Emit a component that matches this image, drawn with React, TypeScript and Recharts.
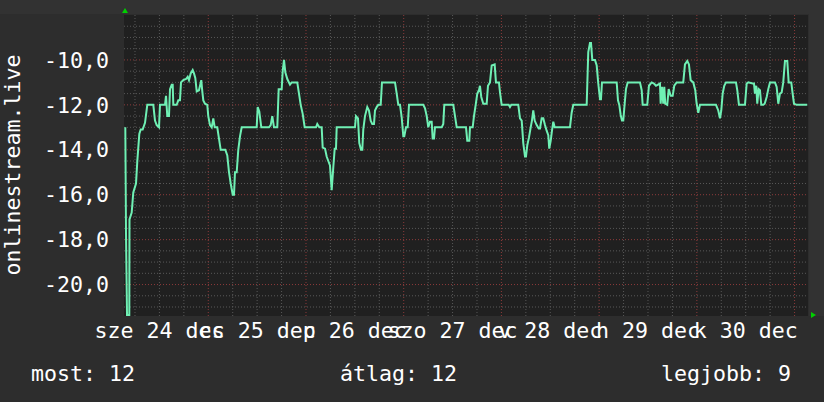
import { LineChart, Line, XAxis, YAxis, CartesianGrid, ReferenceLine } from 'recharts';

const FONT = "'DejaVu Sans Mono', monospace";

// time axis is in hours after dec 24 00:00, the window is one week
const windowStart = 3.3;
const windowEnd = 171.3;

// samples, hours after windowStart
const hoursSinceStart = [
  0.32, 0.49, 0.74, 1.3, 1.35, 1.89, 2.28, 2.95, 3.27, 3.76, 4.1, 4.59, 5.16, 5.72, 7.2, 7.61, 8.03, 8.6, 8.84,
  10.07, 10.32, 10.63, 11.05, 11.3, 11.72, 11.96, 12.11, 12.94, 13.34, 13.75, 14.0, 14.56, 15.23, 15.64, 15.96,
  16.38, 16.87, 17.19, 17.51, 17.86, 18.42, 18.67, 18.98, 19.23, 19.48, 19.89, 20.46, 20.7, 21.12, 21.54, 21.93,
  22.28, 22.91, 23.33, 23.75, 24.88, 25.37, 25.79, 26.21, 26.7, 27.02, 27.26, 27.68, 28.07, 28.49, 28.91, 32.59,
  32.84, 33.23, 33.72, 35.61, 36.03, 36.42, 36.84, 37.65, 37.99, 38.73, 38.98, 39.3, 39.62, 40.11, 40.77, 41.19,
  42.56, 42.98, 43.4, 43.89, 44.38, 47.16, 47.47, 47.97, 48.55, 48.8, 49.37, 49.78, 50.18, 50.59, 51.01, 51.4,
  51.75, 52.07, 52.24, 56.73, 56.98, 57.47, 57.79, 58.21, 58.53, 58.77, 59.19, 59.75, 60.17, 60.59, 60.98, 61.4,
  61.65, 62.06, 62.46, 63.05, 63.36, 66.56, 66.98, 67.37, 67.79, 68.2, 68.6, 68.84, 69.26, 69.68, 70.0, 73.51,
  73.93, 74.35, 74.74, 75.15, 75.57, 75.81, 76.14, 76.38, 78.03, 78.42, 78.67, 80.88, 81.3, 81.72, 84.0, 84.31,
  84.81, 84.98, 85.64, 85.96, 86.38, 86.77, 87.19, 87.43, 87.75, 88.24, 89.08, 89.4, 89.89, 90.31, 91.04, 91.36,
  92.1, 92.35, 92.76, 94.48, 94.8, 95.12, 96.84, 97.26, 97.68, 98.07, 98.49, 98.73, 99.05, 99.47, 99.89, 100.2,
  100.52, 100.87, 101.36, 101.85, 102.17, 102.59, 102.98, 103.4, 103.81, 104.21, 104.45, 104.8, 105.12, 105.44,
  105.78, 109.54, 109.95, 110.35, 113.64, 114.03, 114.45, 114.7, 115.02, 115.68, 116.1, 116.49, 116.91, 117.15,
  117.4, 121.01, 121.33, 121.65, 121.99, 122.31, 122.63, 122.97, 123.29, 123.71, 126.73, 127.15, 127.39, 128.52,
  128.94, 129.6, 130.17, 130.66, 131.64, 131.81, 132.13, 132.45, 132.7, 132.94, 133.43, 133.78, 134.27, 134.76,
  135.15, 135.74, 137.36, 137.78, 138.35, 138.76, 139.18, 139.82, 140.31, 140.65, 141.05, 141.47, 145.4, 145.96,
  146.38, 146.7, 147.04, 147.43, 147.85, 150.31, 150.63, 151.04, 152.52, 152.94, 153.33, 154.41, 154.73, 154.97,
  155.29, 155.54, 155.88, 156.2, 156.52, 157.01, 157.36, 157.85, 158.24, 158.66, 159.89, 160.3, 160.7, 161.11,
  161.53, 161.92, 162.34, 162.91, 163.25, 163.89, 164.23, 164.56, 165.22, 167.82,
];

const values = [
  -13.0, -17.7, -21.35, -21.35, -17.1, -16.8, -15.9, -15.5, -14.5, -13.3, -13.1, -13.1, -12.8, -12.0, -12.0, -12.7,
  -12.9, -13.0, -12.0, -12.0, -11.6, -12.5, -12.5, -11.3, -11.1, -11.1, -12.0, -12.0, -11.8, -11.8, -11.0, -10.9,
  -10.85, -10.75, -10.9, -10.6, -10.45, -10.6, -10.8, -11.4, -11.35, -11.15, -10.9, -11.4, -11.8, -11.95, -12.0,
  -12.5, -12.9, -13.0, -12.6, -13.0, -13.0, -13.5, -14.0, -14.0, -14.25, -15.0, -15.5, -16.0, -16.0, -15.0, -15.0,
  -14.0, -13.4, -13.0, -13.0, -12.1, -12.3, -13.0, -13.0, -12.9, -12.5, -13.0, -13.0, -11.3, -11.3, -10.5, -10.0,
  -10.55, -10.85, -11.1, -11.0, -11.0, -11.5, -12.0, -12.4, -13.0, -13.0, -12.85, -13.0, -13.0, -13.9, -13.95,
  -14.3, -14.5, -14.7, -15.8, -14.8, -13.95, -13.95, -13.0, -13.0, -12.5, -12.6, -13.7, -14.0, -14.0, -13.1, -12.5,
  -12.1, -12.25, -12.7, -12.85, -12.85, -12.25, -12.1, -12.0, -12.0, -11.0, -11.0, -11.5, -12.0, -12.0, -12.55,
  -13.4, -13.4, -13.0, -13.0, -12.0, -12.0, -12.15, -12.5, -13.0, -12.75, -12.75, -13.5, -13.5, -13.0, -13.0,
  -12.85, -12.0, -12.0, -12.5, -13.0, -13.0, -13.6, -13.6, -13.0, -13.0, -12.5, -12.0, -11.5, -11.35, -11.15,
  -11.65, -11.95, -11.95, -11.15, -11.0, -10.25, -10.2, -11.0, -11.0, -11.45, -12.0, -12.0, -12.1, -12.0, -12.0,
  -12.6, -12.7, -13.7, -14.3, -14.3, -13.8, -13.45, -13.0, -12.7, -12.25, -12.7, -12.9, -13.05, -13.05, -12.6,
  -12.6, -12.9, -13.15, -13.35, -13.95, -13.6, -13.15, -12.75, -13.0, -13.0, -12.35, -12.0, -12.0, -9.65, -9.25,
  -9.25, -10.0, -10.0, -10.25, -11.05, -11.75, -11.75, -11.0, -11.0, -11.8, -12.0, -12.45, -12.7, -12.7, -11.95,
  -11.3, -11.0, -11.0, -11.35, -12.0, -12.0, -11.15, -11.0, -11.05, -11.15, -11.05, -11.95, -11.2, -11.95, -11.2,
  -11.95, -12.0, -11.3, -11.6, -11.6, -11.15, -11.0, -11.0, -10.2, -10.05, -10.2, -10.9, -11.0, -11.35, -11.95,
  -12.35, -12.0, -12.0, -12.25, -12.6, -12.25, -11.5, -11.15, -11.0, -11.0, -11.35, -12.0, -12.0, -11.05, -11.0,
  -11.05, -11.05, -11.5, -11.15, -11.95, -11.3, -11.35, -12.0, -12.0, -11.95, -11.65, -11.3, -11.0, -11.0, -11.2,
  -11.95, -11.5, -11.45, -11.0, -10.05, -10.05, -11.0, -11.0, -11.5, -11.95, -12.0, -12.0,
];

const dayLabels = ['sze 24 dec', 'cs 25 dec', 'p 26 dec', 'szo 27 dec', 'v 28 dec', 'h 29 dec', 'k 30 dec'];
const dayLabelHours = [12, 36, 60, 84, 108, 132, 156];
const dayLines = [24, 48, 72, 96, 120, 144, 168];
const sixHourLines = [
  6, 12, 18, 30, 36, 42, 54, 60, 66, 78, 84, 90, 102, 108, 114, 126, 132, 138, 150, 156, 162,
];

const yTicks = [-20, -18, -16, -14, -12, -10];
const yMinor = [
  -21, -20.5, -19.5, -19, -18.5, -17.5, -17, -16.5, -15.5, -15, -14.5, -13.5, -13, -12.5, -11.5, -11, -10.5, -9.5,
  -9, -8.5,
];

const statNames = ['most', 'átlag', 'legjobb'];
const statValues = ['12', '12', '9'];

const data = hoursSinceStart.map((h, i) => ({ t: windowStart + h, v: values[i] }));

const tickStyle = { fill: '#ffffff', fontSize: 21.6, fontFamily: FONT };

function AxisTitle() {
  return (
    <text
      x={20}
      y={165}
      transform="rotate(-90 20 165)"
      textAnchor="middle"
      fill="#ffffff"
      fontSize={21.6}
      fontFamily={FONT}
    >
      onlinestream.live
    </text>
  );
}

export default function App() {
  const statX = [31, 340, 661];
  return (
    <div style={{ position: 'relative', width: 824, height: 402, background: '#2d2d2d', overflow: 'hidden' }}>
      <style>{'body{margin:0}'}</style>
      <div style={{ position: 'absolute', left: 0, top: 0, width: 824, height: 14, background: '#323232' }} />
      <div style={{ position: 'absolute', left: 809, top: 0, width: 15, height: 316, background: '#323232' }} />
      <div style={{ position: 'absolute', left: 0, top: 0 }}>
        <LineChart width={824} height={402} data={data} margin={{ top: 15, right: 16, bottom: 0, left: 0 }}>
          <CartesianGrid horizontal={false} vertical={false} fill="#202020" stroke="none" />
          {yMinor.map((y) => (
            <ReferenceLine key={'ym' + y} y={y} stroke="#585858" strokeDasharray="1 2" />
          ))}
          {sixHourLines.map((x) => (
            <ReferenceLine key={'xm' + x} x={x} stroke="#585858" strokeDasharray="1 2" />
          ))}
          {yTicks.map((y) => (
            <ReferenceLine key={'yM' + y} y={y} stroke="#8c3a3a" strokeDasharray="1 2" />
          ))}
          {dayLines.map((x) => (
            <ReferenceLine key={'xM' + x} x={x} stroke="#8c3a3a" strokeDasharray="1 2" />
          ))}
          <XAxis
            dataKey="t"
            type="number"
            domain={[windowStart, windowEnd]}
            allowDataOverflow
            ticks={dayLabelHours}
            interval={0}
            tickFormatter={(value) => dayLabels[dayLabelHours.indexOf(value)] ?? ''}
            tick={tickStyle}
            tickLine={false}
            axisLine={false}
            tickSize={0}
            tickMargin={7}
            height={86}
          />
          <YAxis
            type="number"
            domain={[-21.4, -8]}
            allowDataOverflow
            ticks={yTicks}
            interval={0}
            tickFormatter={(value) => value.toFixed(1).replace('.', ',')}
            tick={tickStyle}
            tickLine={false}
            axisLine={false}
            tickSize={0}
            tickMargin={15}
            width={124}
            label={{ content: () => <AxisTitle /> }}
          />
          <Line
            type="linear"
            dataKey="v"
            stroke="#6ff0b4"
            strokeWidth={2}
            dot={false}
            isAnimationActive={false}
          />
        </LineChart>
      </div>
      <svg width={824} height={402} style={{ position: 'absolute', left: 0, top: 0, pointerEvents: 'none' }}>
        <polygon points="122,13 128,13 125,8" fill="#00d000" />
        <polygon points="811,312 811,318 816,315" fill="#00d000" />
        {statNames.map((name, i) => (
          <text key={name} x={statX[i]} y={381} fill="#ffffff" fontSize={21.6} fontFamily={FONT}>
            {name}: {statValues[i]}
          </text>
        ))}
      </svg>
    </div>
  );
}
